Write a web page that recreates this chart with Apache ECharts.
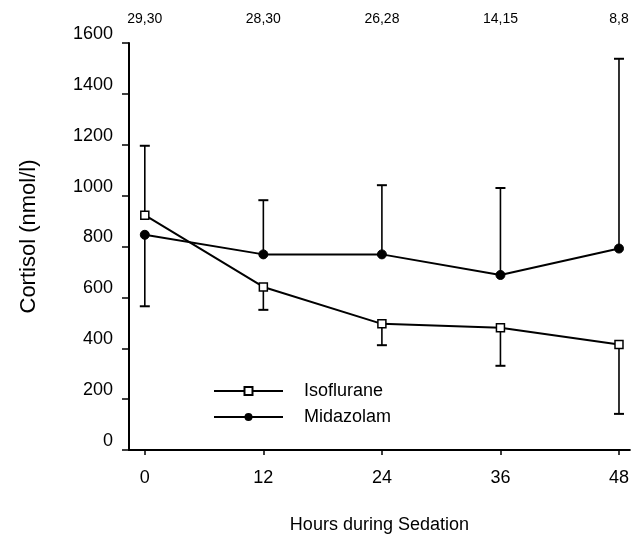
<!DOCTYPE html>
<html>
<head>
<meta charset="utf-8">
<script src="https://cdn.jsdelivr.net/npm/echarts@6/dist/echarts.min.js"></script>
<style>
  html, body { margin: 0; padding: 0; background: #fff; }
  #chart { width: 632px; height: 539px; }
</style>
</head>
<body>
<div id="chart"></div>
<script>
// hours during sedation
const hours = [0, 12, 24, 36, 48];
// mean cortisol (nmol/l)
const isoflurane = [923, 641, 496, 481, 415];
const midazolam = [846, 769, 769, 688, 792];
// error bar ends (one-sided)
const isoErrEnd = [1196, 551, 412, 331, 142];
const midErrEnd = [565, 982, 1041, 1030, 1538];
// patient numbers shown above each time point
const nLabels = ["29,30", "28,30", "26,28", "14,15", "8,8"];

const font = "Liberation Sans";

const errData = (means, ends) => hours.map((h, i) => [h, means[i], ends[i]]);

const renderErr = (params, api) => {
  const p0 = api.coord([api.value(0), api.value(1)]);
  const p1 = api.coord([api.value(0), api.value(2)]);
  const w = 5;
  return {
    type: "group",
    children: [
      { type: "line", shape: { x1: p0[0], y1: p0[1], x2: p1[0], y2: p1[1] }, style: { stroke: "#000", lineWidth: 1.6 } },
      { type: "line", shape: { x1: p1[0] - w, y1: p1[1], x2: p1[0] + w, y2: p1[1] }, style: { stroke: "#000", lineWidth: 2 } }
    ]
  };
};

const chart = echarts.init(document.getElementById("chart"));

const option = {
  animation: false,
  backgroundColor: "#fff",
  grid: { left: 129, right: 2, top: 43, bottom: 80 },
  legend: {
    orient: "vertical",
    left: 208,
    top: 377,
    itemWidth: 69,
    itemHeight: 10,
    itemGap: 8,
    textStyle: { fontFamily: font, fontSize: 18, color: "#000", padding: [0, 0, 0, 16] },
    data: ["Isoflurane", "Midazolam"]
  },
  xAxis: [
    {
      type: "value",
      min: -1.6,
      max: 49.1,
      name: "Hours during Sedation",
      nameLocation: "middle",
      nameGap: 66,
      nameTextStyle: { fontFamily: font, fontSize: 18, color: "#000" },
      axisLine: { lineStyle: { color: "#000", width: 2 } },
      axisTick: { show: true, length: 5, customValues: hours, lineStyle: { color: "#000", width: 1.5 } },
      axisLabel: { customValues: hours, margin: 19, fontFamily: font, fontSize: 18, color: "#000" },
      splitLine: { show: false }
    },
    {
      type: "value",
      position: "top",
      min: -1.6,
      max: 49.1,
      axisLine: { show: false },
      axisTick: { show: false },
      axisLabel: {
        customValues: hours,
        margin: 17,
        fontFamily: font,
        fontSize: 14,
        color: "#000",
        formatter: (v) => nLabels[hours.indexOf(v)]
      },
      splitLine: { show: false }
    }
  ],
  yAxis: {
    type: "value",
    min: 0,
    max: 1600,
    interval: 200,
    name: "Cortisol (nmol/l)",
    nameLocation: "middle",
    nameGap: 89,
    nameTextStyle: { fontFamily: font, fontSize: 22, color: "#000", padding: [0, 0, 0, 20] },
    axisLine: { show: true, onZero: false, lineStyle: { color: "#000", width: 2 } },
    axisTick: { show: true, length: 7, lineStyle: { color: "#000", width: 1.5 } },
    axisLabel: {
      margin: 16,
      verticalAlign: "bottom",
      fontFamily: font,
      fontSize: 18,
      color: "#000",
      formatter: (v) => String(v)
    },
    splitLine: { show: false }
  },
  series: [
    {
      name: "isoErr",
      type: "custom",
      renderItem: renderErr,
      data: errData(isoflurane, isoErrEnd),
      z: 1,
      silent: true
    },
    {
      name: "midErr",
      type: "custom",
      renderItem: renderErr,
      data: errData(midazolam, midErrEnd),
      z: 1,
      silent: true
    },
    {
      name: "Isoflurane",
      type: "line",
      data: hours.map((h, i) => [h, isoflurane[i]]),
      symbol: "rect",
      symbolSize: 8,
      showAllSymbol: true,
      lineStyle: { color: "#000", width: 2 },
      itemStyle: { color: "#fff", borderColor: "#000", borderWidth: 1.5 },
      z: 3
    },
    {
      name: "Midazolam",
      type: "line",
      data: hours.map((h, i) => [h, midazolam[i]]),
      symbol: "circle",
      symbolSize: 9,
      showAllSymbol: true,
      lineStyle: { color: "#000", width: 2 },
      itemStyle: { color: "#000", borderColor: "#000" },
      z: 3
    }
  ]
};

chart.setOption(option);
</script>
</body>
</html>
